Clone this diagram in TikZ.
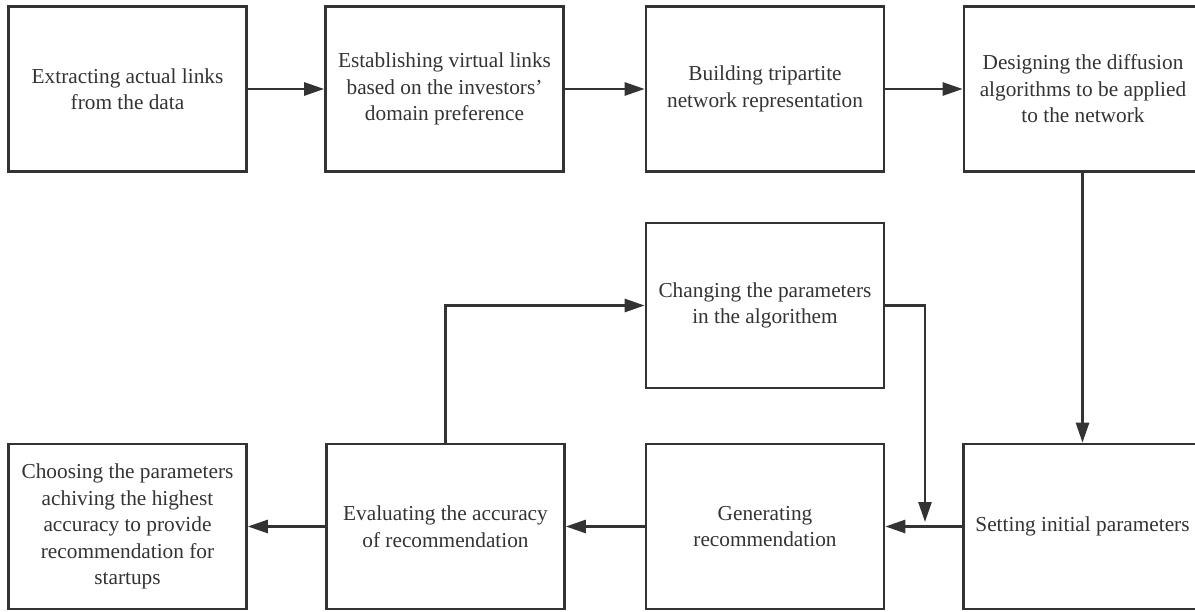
\documentclass[tikz,border=0pt]{standalone}
\usepackage{fontspec}
\setmainfont{Liberation Serif}
\usetikzlibrary{arrows.meta}
\definecolor{ink}{HTML}{333333}
\begin{document}
\begin{tikzpicture}[x=1pt,y=-1pt,
  box/.style={draw=ink, line width=2.6pt, minimum width=238pt, minimum height=165pt,
    inner sep=0pt, align=center, text=ink, font=\fontsize{21.3}{26.5}\selectfont},
  conn/.style={draw=ink, line width=2.6pt, -{Triangle[length=20pt,width=13pt]}}]
\useasboundingbox (0,0) rectangle (1195,612);
\clip (0,0) rectangle (1195,612);
\node[box] (b1) at (127.5,89) {Extracting actual links\\from the data};
\node[box] (b2) at (444.5,89) {Establishing virtual links\\based on the investors{\char"0027}\\domain preference};
\node[box] (b3) at (765,89) {Building tripartite\\network representation};
\node[box] (b4) at (1083,89) {Designing the diffusion\\algorithms to be applied\\to the network};
\node[box] (chg) at (765,305.5) {Changing the parameters\\in the algorithem};
\node[box] (cho) at (127.5,526.5) {Choosing the parameters\\achiving the highest\\accuracy to provide\\recommendation for\\startups};
\node[box] (eva) at (445.5,526.5) {Evaluating the accuracy\\of recommendation};
\node[box] (gen) at (765,526.5) {Generating\\recommendation};
\node[box] (set) at (1082.5,526.5) {Setting initial parameters};
\coordinate (j) at (925,522);
\draw[conn] (b1) -- (b2);
\draw[conn] (b2) -- (b3);
\draw[conn] (b3) -- (b4);
\draw[conn] (b4.south -| set.north) -- (set.north);
\draw[conn] (set) -- (gen);
\draw[conn] (gen) -- (eva);
\draw[conn] (eva) -- (cho);
\draw[conn] (eva.north) |- (chg.west);
\draw[conn] (chg.east) -| (j);
\end{tikzpicture}
\end{document}
